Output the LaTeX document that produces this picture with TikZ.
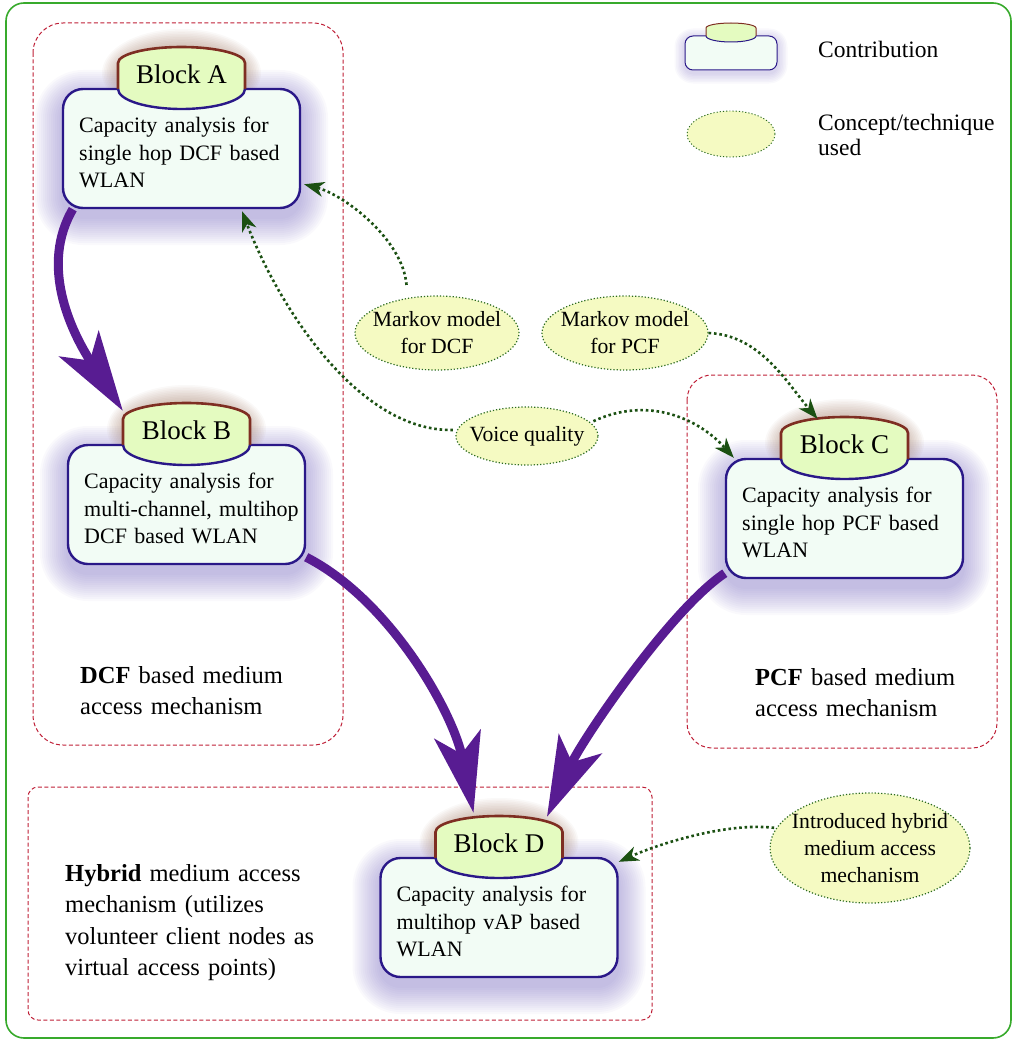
\documentclass[tikz,border=0pt]{standalone}
\usepackage{fontspec}
\setmainfont{Liberation Serif}
\usetikzlibrary{arrows.meta,shapes.geometric,calc}

\definecolor{bodyfill}{HTML}{F2FCF5}
\definecolor{bodyline}{HTML}{2A1888}
\definecolor{tabfill}{HTML}{E4FBC0}
\definecolor{tabline}{HTML}{7E2E22}
\definecolor{glowblue}{HTML}{6A5AB8}
\definecolor{glowbrown}{HTML}{8A5A40}
\definecolor{ovalfill}{HTML}{F5FAC2}
\definecolor{ovalline}{HTML}{2A6A20}
\definecolor{linkgreen}{HTML}{1B5012}
\definecolor{flowpurple}{HTML}{581C92}
\definecolor{groupred}{HTML}{BE1E36}
\definecolor{framegreen}{HTML}{38AA2C}

\tikzset{
  body/.style={draw=bodyline, fill=bodyfill, line width=2.4pt, rounded corners=20pt,
    minimum width=237pt, minimum height=119pt, inner sep=0pt},
  bodytext/.style={anchor=base west, inner sep=0pt, text width=215pt, align=left,
    font=\fontsize{22}{27.5}\selectfont},
  tabzone/.style={minimum width=127pt, minimum height=62pt, inner sep=0pt},
  tablabel/.style={anchor=base, inner sep=0pt, font=\fontsize{27}{30}\selectfont},
  concept/.style={ellipse, draw=ovalline, fill=ovalfill, line width=1.2pt, dotted,
    inner xsep=-12pt, inner ysep=-6pt, align=center, font=\fontsize{21.7}{27}\selectfont},
  link/.style={draw=linkgreen, line width=2.6pt, dash pattern=on 2.6pt off 2.8pt,
    -{Stealth[length=20pt,width=15pt,inset=6pt]}},
  flow/.style={draw=flowpurple, line width=9pt,
    -{Stealth[length=80pt,width=47pt,inset=20pt]}},
  group/.style={draw=groupred, line width=1pt, dash pattern=on 4pt off 2.5pt},
  grouptext/.style={anchor=base west, inner sep=0pt, text width=320pt, align=left,
    font=\fontsize{24.5}{31.5}\selectfont},
  legendtext/.style={anchor=base west, inner sep=0pt, text width=200pt, align=left,
    font=\fontsize{23.5}{25}\selectfont},
}

% One contribution block: #1 name, #2 centre x, #3 top of body, #4 tab label, #5 body text
\newcommand\contrib[5]{%
  \pgfmathsetmacro\blkx{#2}%
  \pgfmathsetmacro\blky{#3}%
  % soft lavender halo around the body, heavier underneath
  \foreach \k [evaluate=\k as \d using 2*\k, evaluate=\k as \rr using 20+2*\k] in {1,...,14}{%
    \fill[glowblue, opacity=0.035, rounded corners=\rr pt]
      (\blkx-118.5-\d,\blky-\d+9) rectangle (\blkx+118.5+\d,\blky+119+\d+9);
  }%
  % brownish halo around the tab
  \foreach \k [evaluate=\k as \glowrx using 63.5+1.6*\k, evaluate=\k as \glowry using 28+1.6*\k] in {1,...,10}{%
    \fill[glowbrown, opacity=0.04] (\blkx,\blky-16) ellipse[x radius=\glowrx pt, y radius=\glowry pt];
  }%
  \node[body] (#1) at (\blkx,\blky+59.5) {};
  \node[tabzone] (#1tab) at (\blkx,\blky-11) {};
  \fill[tabfill] (\blkx-63.5,\blky) -- (\blkx-63.5,\blky-26)
      arc[start angle=180, end angle=0, x radius=63.5pt, y radius=16pt]
      -- (\blkx+63.5,\blky)
      arc[start angle=0, end angle=-180, x radius=63.5pt, y radius=20pt] -- cycle;
  \draw[tabline, line width=2.6pt] (\blkx-63.5,\blky) -- (\blkx-63.5,\blky-26)
      arc[start angle=180, end angle=0, x radius=63.5pt, y radius=16pt]
      -- (\blkx+63.5,\blky);
  \draw[bodyline, line width=2.4pt] (\blkx+63.5,\blky)
      arc[start angle=0, end angle=-180, x radius=63.5pt, y radius=20pt];
  \node[tablabel] (#1label) at (\blkx,\blky-6) {#4};
  \node[bodytext] (#1text) at (\blkx-102.5,\blky+43.5) {#5};
}

\begin{document}
\begin{tikzpicture}[x=1pt, y=-1pt]
\useasboundingbox (0,0) rectangle (1014,1041);

% outer frame
\draw[framegreen, line width=1.6pt, rounded corners=18pt] (6,3) rectangle (1011,1038);

% contribution blocks
\contrib{A}{181.5}{89}{Block A}{Capacity analysis for\\single hop DCF based\\WLAN}
\contrib{B}{186.5}{445}{Block B}{Capacity analysis for\\multi-channel, multihop\\DCF based WLAN}
\contrib{C}{844.5}{459}{Block C}{Capacity analysis for\\single hop PCF based\\WLAN}
\contrib{D}{499}{858}{Block D}{Capacity analysis for\\multihop vAP based\\WLAN}

% medium access groups
\draw[group, rounded corners=30pt] (33,23) rectangle (343,745);
\draw[group, rounded corners=25pt] (687,375) rectangle (997,748);
\draw[group, rounded corners=10pt] (28,787) rectangle (652,1020);
\node[grouptext] (dcflabel) at (80,683) {\textbf{DCF} based medium\\access mechanism};
\node[grouptext] (pcflabel) at (755,685) {\textbf{PCF} based medium\\access mechanism};
\node[grouptext] (hyblabel) at (65,881) {\textbf{Hybrid} medium access\\mechanism (utilizes\\volunteer client nodes as\\virtual access points)};

% concepts and techniques
\node[concept, minimum width=164pt, minimum height=74pt] (mdcf) at (437,333) {Markov model\\for DCF};
\node[concept, minimum width=166pt, minimum height=74pt] (mpcf) at (625,333) {Markov model\\for PCF};
\node[concept, minimum width=142pt, minimum height=58pt] (vq) at (527,436) {Voice quality};
\node[concept, minimum width=200pt, minimum height=110pt] (ih) at (870,848) {Introduced hybrid\\medium access\\mechanism};

% legend
\foreach \k [evaluate=\k as \d using 1.5*\k, evaluate=\k as \rr using 8+1.5*\k] in {1,...,7}{%
  \fill[glowblue, opacity=0.04, rounded corners=\rr pt] (685-\d,36-\d+3) rectangle (777+\d,70+\d+3);
}
\node[draw=bodyline, fill=bodyfill, line width=1pt, rounded corners=8pt,
  minimum width=92pt, minimum height=34pt, inner sep=0pt] (legbox) at (731,53) {};
\fill[tabfill] (706,36) -- (706,28) arc[start angle=180, end angle=0, x radius=25pt, y radius=5pt]
  -- (756,36) arc[start angle=0, end angle=-180, x radius=25pt, y radius=6pt] -- cycle;
\draw[tabline, line width=1pt] (706,36) -- (706,28)
  arc[start angle=180, end angle=0, x radius=25pt, y radius=5pt] -- (756,36);
\draw[bodyline, line width=1pt] (756,36) arc[start angle=0, end angle=-180, x radius=25pt, y radius=6pt];
\node[concept, line width=0.9pt, minimum width=88pt, minimum height=46pt] (legoval) at (731,134) {};
\node[legendtext] (legcontrib) at (818,58) {Contribution};
\node[legendtext] (legconcept) at (818,130) {Concept/technique\\used};

% flow between contributions
\draw[flow] ([xshift=11pt]A.south west) .. controls (40,265) and (70,330) .. ([yshift=-8pt]Btab.north west);
\draw[flow] ([yshift=8pt]B.south east) .. controls (390,600) and (453,712) .. ([xshift=-25.5pt,yshift=3pt]Dtab.north);
\draw[flow] ([yshift=6pt]C.south west) .. controls (670,610) and (582,740) .. ([xshift=48pt,yshift=-1pt]Dtab.north);

% concepts feeding the contributions
\draw[link, shorten <=13pt, shorten >=3pt] (mdcf.130) .. controls (403,240) and (345,195) .. ([yshift=-35pt]A.east);
\draw[link, shorten <=4pt] (vq.175) .. controls (360,432) and (280,310) .. ([xshift=60.5pt,yshift=-2pt]A.south);
\draw[link, shorten <=3pt] (vq.12) .. controls (650,395) and (700,420) .. ([xshift=9pt]C.north west);
\draw[link] (mpcf.east) .. controls (760,335) and (787,383) .. ([xshift=-27pt,yshift=-2pt]Ctab.north);
\draw[link, shorten <=2pt] (ih.168) .. controls (725,822) and (656,845) .. ([yshift=-5pt]D.north east);
\end{tikzpicture}
\end{document}
